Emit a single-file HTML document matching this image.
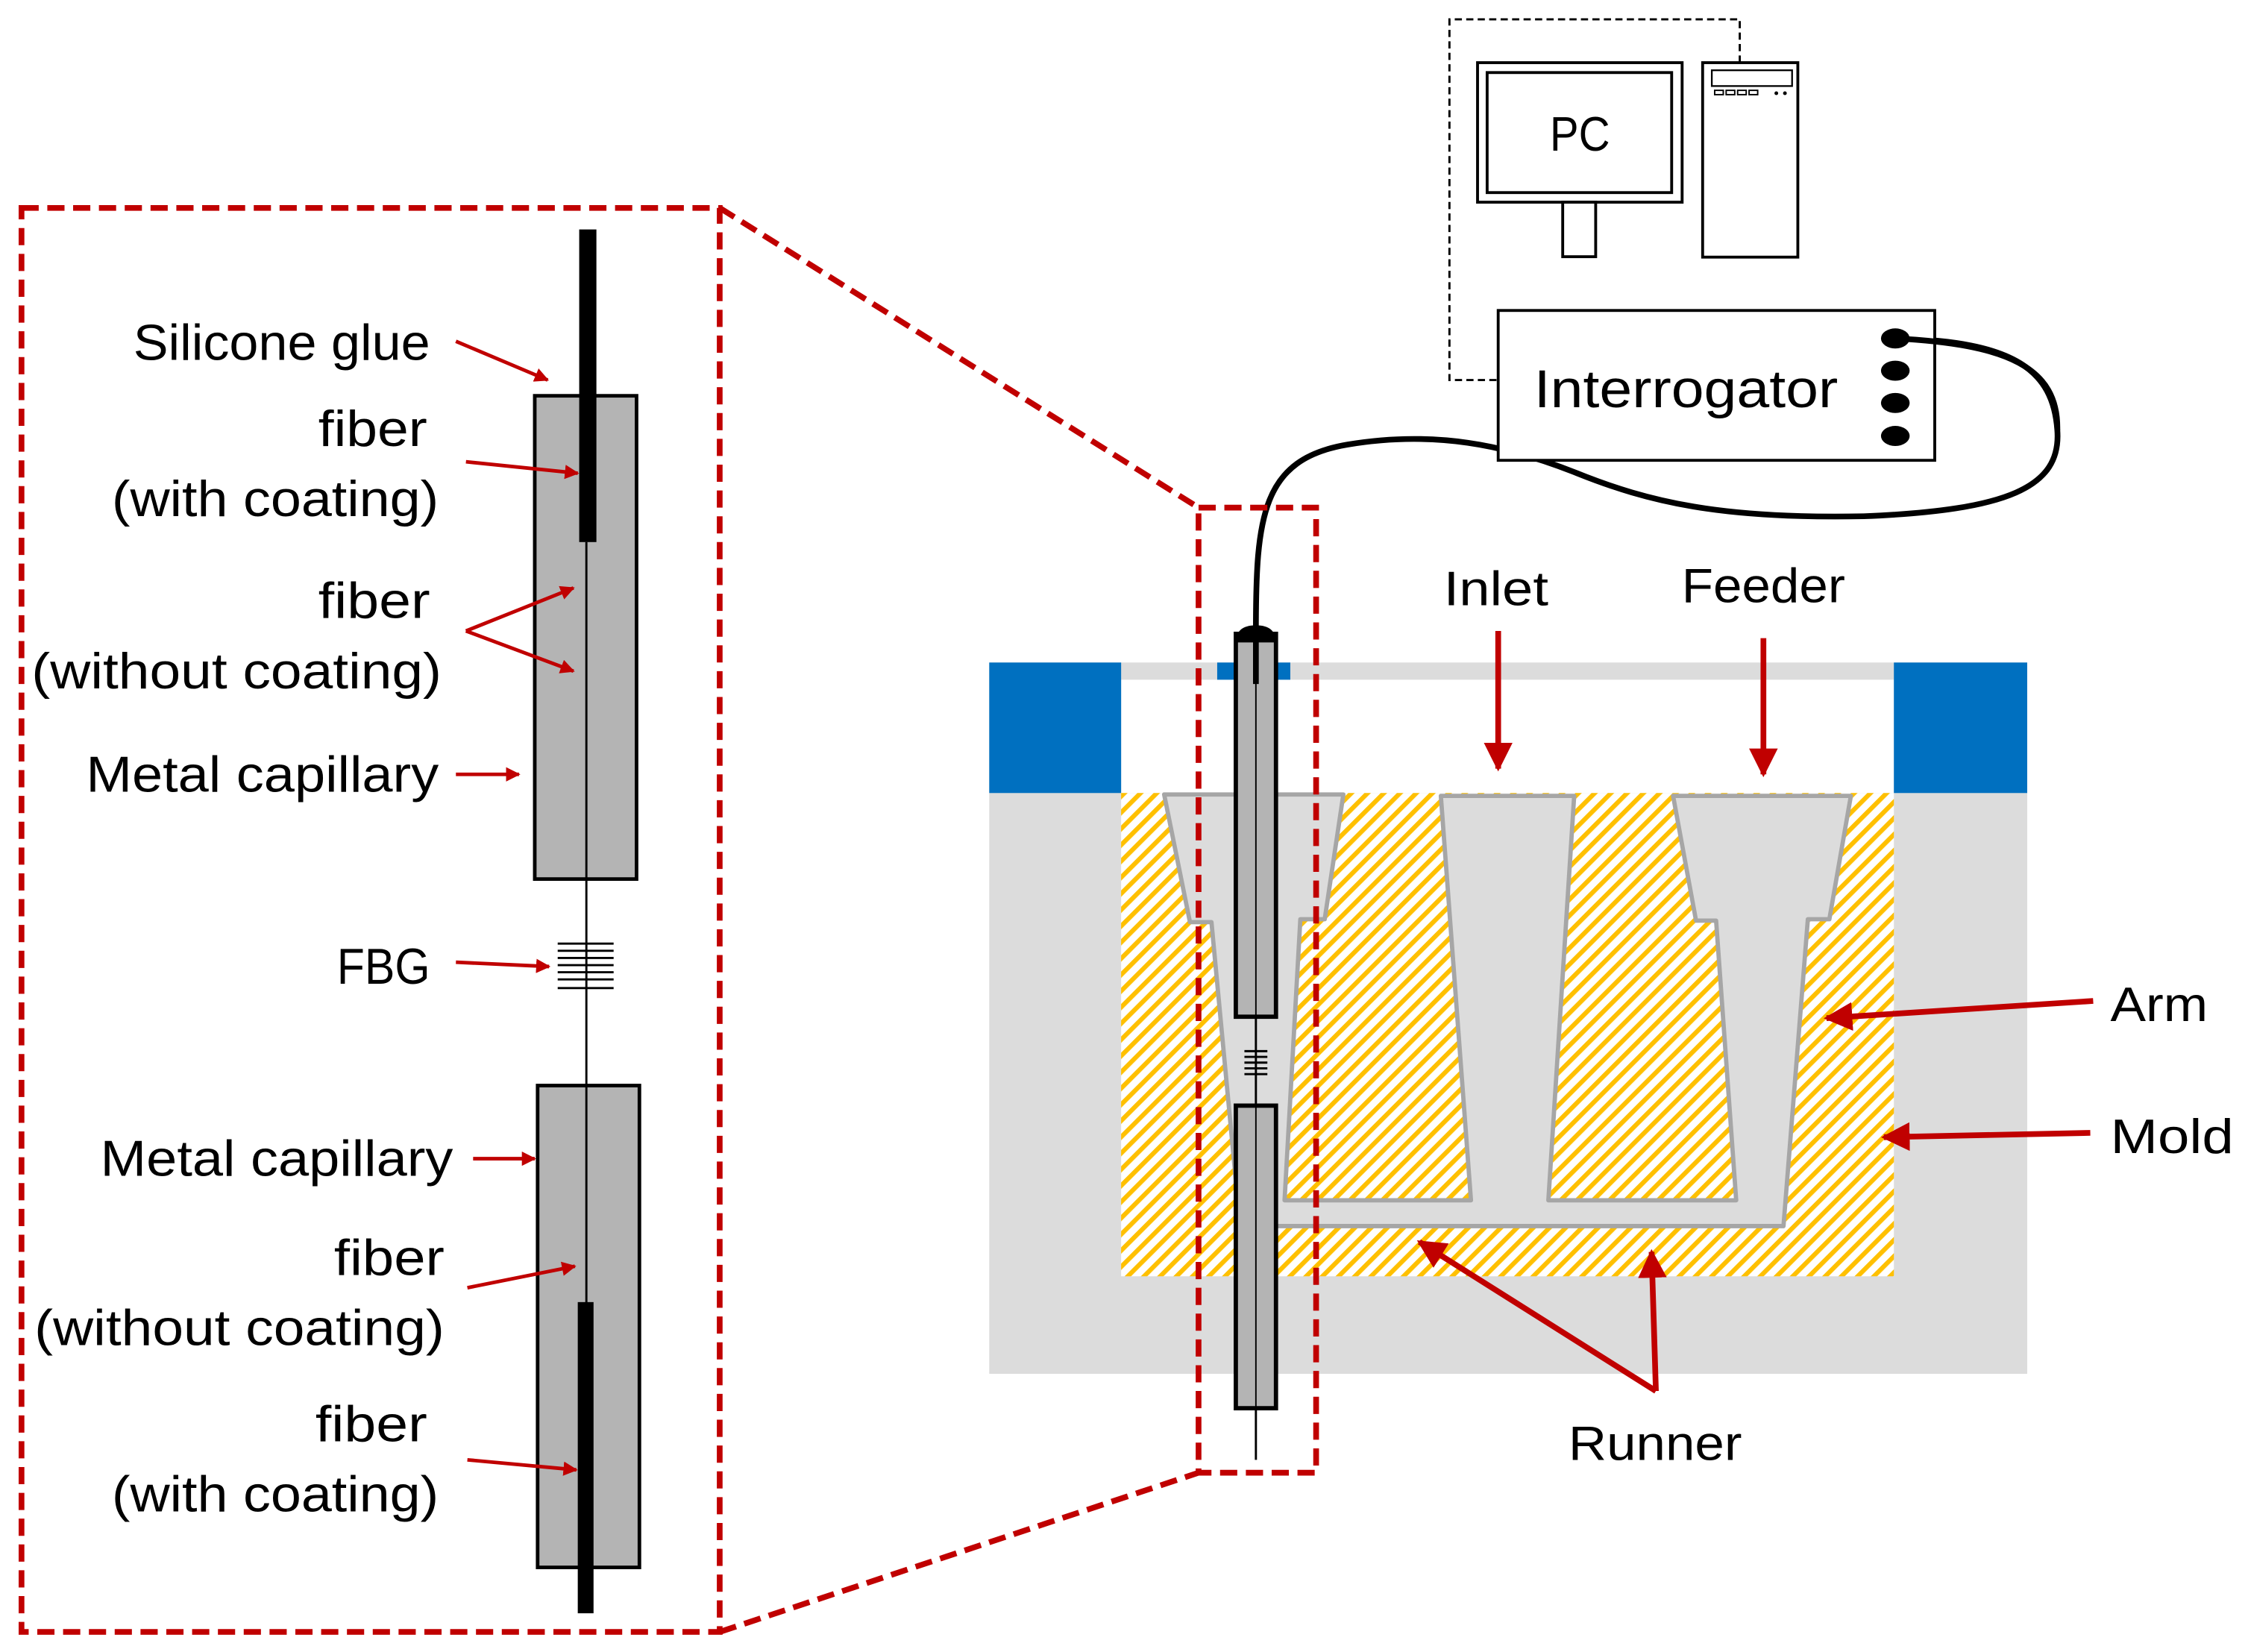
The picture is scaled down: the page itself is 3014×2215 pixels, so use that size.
<!DOCTYPE html>
<html><head><meta charset="utf-8"><style>html,body{margin:0;padding:0;background:#fff}svg{display:block}text{font-family:"Liberation Sans",sans-serif;fill:#000}</style></head><body>
<svg width="3014" height="2215" viewBox="0 0 1568 1152" preserveAspectRatio="none" xmlns="http://www.w3.org/2000/svg">
<defs>
<pattern id="h" width="8" height="8" patternUnits="userSpaceOnUse" patternTransform="rotate(45)">
<rect width="8" height="8" fill="#fff"/><rect x="0" y="0" width="3.2" height="8" fill="#FFC000"/></pattern>
<marker id="a" viewBox="0 0 10 10" refX="9" refY="5" markerWidth="5" markerHeight="5" orient="auto" markerUnits="strokeWidth"><path d="M0,0 L10,5 L0,10 z" fill="#C00000"/></marker>
<marker id="b" viewBox="0 0 10 10" refX="9" refY="5" markerWidth="4" markerHeight="4" orient="auto" markerUnits="strokeWidth"><path d="M0,0 L10,5 L0,10 z" fill="#C00000"/></marker>
</defs>
<rect x="690" y="462" width="724" height="496" fill="#DCDCDC"/>
<rect x="782" y="474" width="539" height="79" fill="#fff"/>
<rect x="690" y="462" width="92" height="91" fill="#0070C0"/>
<rect x="1321" y="462" width="93" height="91" fill="#0070C0"/>
<rect x="849" y="462" width="51" height="12" fill="#0070C0"/>
<rect x="782" y="553" width="539" height="337" fill="url(#h)"/>
<polygon points="812,554 937,554 924,641 907,641 896,837 1026,837 1005,555 1098,555 1080,837 1211,837 1197,642 1183,642 1167,555 1291,555 1276,641 1261,641 1244,855 865,855 845,643 830,643" fill="#DCDCDC" stroke="#A6A6A6" stroke-width="3" stroke-linejoin="round"/>
<line x1="876" y1="709" x2="876" y2="771" stroke="#000" stroke-width="1.5"/>
<line x1="876" y1="982" x2="876" y2="1018" stroke="#000" stroke-width="1.5"/>
<g stroke="#000" stroke-width="1.5"><line x1="868" y1="733" x2="884" y2="733"/><line x1="868" y1="737" x2="884" y2="737"/><line x1="868" y1="741" x2="884" y2="741"/><line x1="868" y1="745" x2="884" y2="745"/><line x1="868" y1="749" x2="884" y2="749"/></g>
<rect x="862" y="442" width="28" height="267" fill="#B4B4B4" stroke="#000" stroke-width="3"/>
<rect x="862" y="771" width="28" height="211" fill="#B4B4B4" stroke="#000" stroke-width="3"/>
<line x1="876" y1="444" x2="876" y2="709" stroke="#000" stroke-width="1"/>
<line x1="876" y1="771" x2="876" y2="982" stroke="#000" stroke-width="1"/>
<line x1="876" y1="442" x2="876" y2="477" stroke="#000" stroke-width="4"/>
<path d="M862,448 Q862,436 876,436 Q890,436 890,448 Z" fill="#000"/>
<path d="M876,440 C876,360 880,320 940,310 C1000,300 1050,310 1100,330 C1150,350 1200,362 1300,360 C1400,356 1438,340 1435,300 C1432,258 1405,238 1323,236" fill="none" stroke="#000" stroke-width="4"/>
<path d="M1213.5,43.7 V13.5 H1011 V265 H1045" fill="none" stroke="#000" stroke-width="1.5" stroke-dasharray="5,3"/>
<rect x="1030.6" y="43.7" width="142.7" height="97.3" fill="#fff" stroke="#000" stroke-width="2"/>
<rect x="1037.3" y="50.6" width="128.7" height="83.7" fill="#fff" stroke="#000" stroke-width="2"/>
<rect x="1090" y="141" width="23" height="38" fill="#fff" stroke="#000" stroke-width="2"/>
<rect x="1187.6" y="43.7" width="66.4" height="135.6" fill="#fff" stroke="#000" stroke-width="2"/>
<rect x="1194" y="49" width="56" height="11" fill="#fff" stroke="#000" stroke-width="1.2"/>
<g fill="none" stroke="#000" stroke-width="1"><rect x="1196" y="63" width="6" height="3"/><rect x="1204" y="63" width="6" height="3"/><rect x="1212" y="63" width="6" height="3"/><rect x="1220" y="63" width="6" height="3"/></g>
<circle cx="1239" cy="65" r="1.3"/><circle cx="1245" cy="65" r="1.3"/>
<text x="1081" y="105" font-size="34" textLength="42" lengthAdjust="spacingAndGlyphs">PC</text>
<rect x="1045" y="216.5" width="304.5" height="104.5" fill="#fff" stroke="#000" stroke-width="2"/>
<text x="1070" y="284" font-size="37" textLength="212" lengthAdjust="spacingAndGlyphs">Interrogator</text>
<g fill="#000"><ellipse cx="1322" cy="236" rx="10" ry="7"/><ellipse cx="1322" cy="258.5" rx="10" ry="7"/><ellipse cx="1322" cy="281" rx="10" ry="7"/><ellipse cx="1322" cy="304" rx="10" ry="7"/></g>
<path d="M1322,236 C1400,240 1436,256 1435,300" fill="none" stroke="#000" stroke-width="4"/>
<text x="1007" y="422" font-size="34" textLength="73" lengthAdjust="spacingAndGlyphs">Inlet</text>
<text x="1173" y="420" font-size="34" textLength="114" lengthAdjust="spacingAndGlyphs">Feeder</text>
<text x="1472" y="712" font-size="34" textLength="68" lengthAdjust="spacingAndGlyphs">Arm</text>
<text x="1472" y="804" font-size="34" textLength="86" lengthAdjust="spacingAndGlyphs">Mold</text>
<text x="1094" y="1018" font-size="34" textLength="121" lengthAdjust="spacingAndGlyphs">Runner</text>
<g stroke="#C00000" stroke-width="4" fill="none" marker-end="url(#a)">
<line x1="1045" y1="440" x2="1045" y2="536"/>
<line x1="1230" y1="445" x2="1230" y2="540"/>
<line x1="1460" y1="698" x2="1274" y2="710"/>
<line x1="1458" y1="790" x2="1314" y2="793"/>
<line x1="1155" y1="970" x2="990" y2="866"/>
<line x1="1155" y1="970" x2="1152" y2="873"/>
</g>
<g fill="none" stroke="#C00000" stroke-width="4" stroke-dasharray="12,6">
<rect x="15" y="145" width="487" height="993"/>
<rect x="836" y="354" width="82" height="673"/>
<line x1="502" y1="145" x2="836" y2="354"/>
<line x1="502" y1="1138" x2="836" y2="1027"/>
</g>
<rect x="373" y="276" width="71" height="337" fill="#B4B4B4" stroke="#000" stroke-width="2.5"/>
<rect x="375" y="757" width="71" height="336" fill="#B4B4B4" stroke="#000" stroke-width="2.5"/>
<line x1="409" y1="378" x2="409" y2="1093" stroke="#000" stroke-width="1.5"/>
<rect x="404" y="160" width="12" height="218" fill="#000"/>
<rect x="403" y="908" width="11" height="217" fill="#000"/>
<g stroke="#000" stroke-width="1.5"><line x1="389" y1="658" x2="428" y2="658"/><line x1="389" y1="663" x2="428" y2="663"/><line x1="389" y1="668" x2="428" y2="668"/><line x1="389" y1="673" x2="428" y2="673"/><line x1="389" y1="678" x2="428" y2="678"/><line x1="389" y1="683" x2="428" y2="683"/><line x1="389" y1="689" x2="428" y2="689"/></g>
<g font-size="35">
<text x="93" y="251" textLength="207" lengthAdjust="spacingAndGlyphs">Silicone glue</text>
<text x="222" y="311" textLength="76" lengthAdjust="spacingAndGlyphs">fiber</text>
<text x="78" y="360" textLength="228" lengthAdjust="spacingAndGlyphs">(with coating)</text>
<text x="222" y="431" textLength="78" lengthAdjust="spacingAndGlyphs">fiber</text>
<text x="22" y="480" textLength="286" lengthAdjust="spacingAndGlyphs">(without coating)</text>
<text x="60" y="552" textLength="246" lengthAdjust="spacingAndGlyphs">Metal capillary</text>
<text x="235" y="686" textLength="65" lengthAdjust="spacingAndGlyphs">FBG</text>
<text x="70" y="820" textLength="246" lengthAdjust="spacingAndGlyphs">Metal capillary</text>
<text x="233" y="889" textLength="77" lengthAdjust="spacingAndGlyphs">fiber</text>
<text x="24" y="938" textLength="286" lengthAdjust="spacingAndGlyphs">(without coating)</text>
<text x="220" y="1005" textLength="78" lengthAdjust="spacingAndGlyphs">fiber</text>
<text x="78" y="1054" textLength="228" lengthAdjust="spacingAndGlyphs">(with coating)</text>
</g>
<g stroke="#C00000" stroke-width="2.5" fill="none" marker-end="url(#b)">
<line x1="318" y1="238" x2="382" y2="265"/>
<line x1="325" y1="322" x2="403" y2="330"/>
<line x1="325" y1="440" x2="400" y2="410"/>
<line x1="325" y1="440" x2="400" y2="468"/>
<line x1="318" y1="540" x2="362" y2="540"/>
<line x1="318" y1="671" x2="383" y2="674"/>
<line x1="330" y1="808" x2="373" y2="808"/>
<line x1="326" y1="898" x2="401" y2="883"/>
<line x1="326" y1="1018" x2="402" y2="1025"/>
</g>
</svg>
</body></html>
